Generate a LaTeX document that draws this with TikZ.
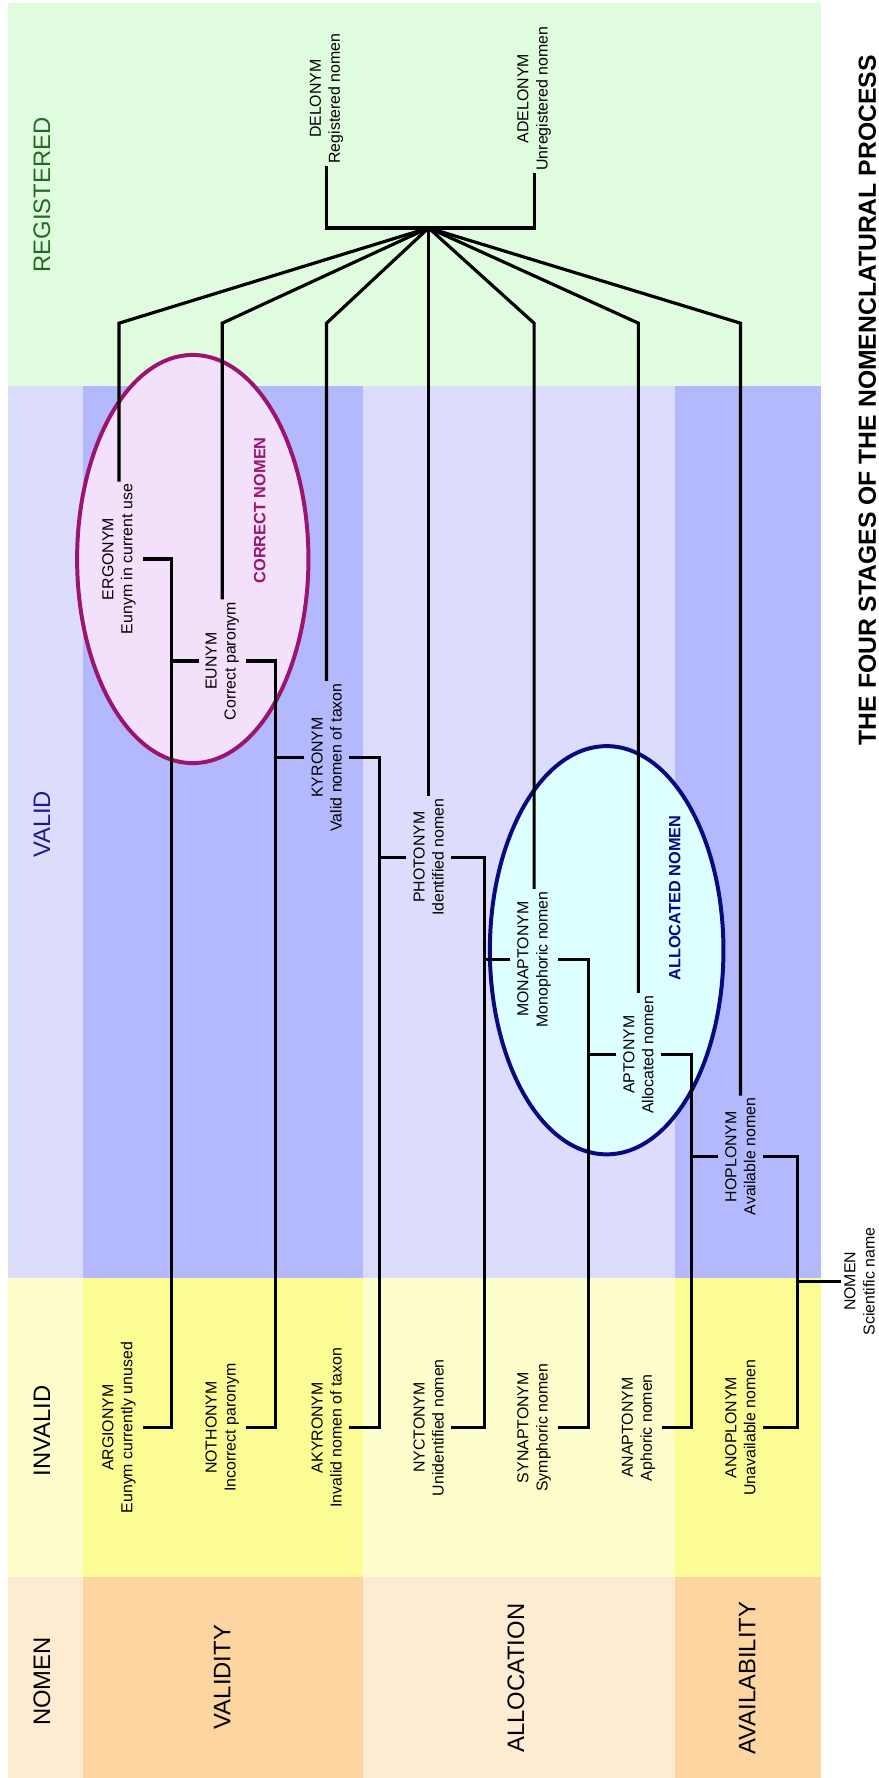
\documentclass[tikz,border=0pt]{standalone}
\usepackage{fontspec}
\setmainfont{Liberation Sans}
\definecolor{regG}{HTML}{DFFCDF}
\definecolor{vl}{HTML}{DCDCFC}
\definecolor{vd}{HTML}{B4B8FC}
\definecolor{il}{HTML}{FEFECC}
\definecolor{idk}{HTML}{FCFC94}
\definecolor{nl}{HTML}{FDEBD2}
\definecolor{nd}{HTML}{FDD5A0}
\definecolor{pinkF}{HTML}{F3E0FA}
\definecolor{pinkS}{HTML}{9B146E}
\definecolor{cyanF}{HTML}{DEFFFF}
\definecolor{navyS}{HTML}{0A0A80}
\definecolor{regT}{HTML}{226B22}
\definecolor{valT}{HTML}{1C1C8C}
\begin{document}
\begin{tikzpicture}[x=1pt,y=-1pt,
  nm/.style={rotate=90,align=center,font=\fontsize{14}{16.8}\selectfont,inner xsep=2pt,inner ysep=6pt},
  ln/.style={line width=2.8pt,line join=miter},
  lab/.style={rotate=90,font=\fontsize{21}{25}\selectfont,inner sep=0pt},
  tag/.style={rotate=90,font=\bfseries\fontsize{14.4}{17}\selectfont,inner sep=0pt}]
\useasboundingbox (0,0) rectangle (775,1568);
% background bands
\fill[regG] (7,3) rectangle (724,340);
\fill[vl] (7,340) rectangle (73,1127);
\fill[vd] (73,340) rectangle (320,1127);
\fill[vl] (320,340) rectangle (595,1127);
\fill[vd] (595,340) rectangle (724,1127);
\fill[il] (7,1127) rectangle (73,1391);
\fill[idk] (73,1127) rectangle (320,1391);
\fill[il] (320,1127) rectangle (595,1391);
\fill[idk] (595,1127) rectangle (724,1391);
\fill[nl] (7,1391) rectangle (73,1568);
\fill[nd] (73,1391) rectangle (320,1568);
\fill[nl] (320,1391) rectangle (595,1568);
\fill[nd] (595,1391) rectangle (724,1568);
% ellipses
\draw[line width=3.5pt,draw=pinkS,fill=pinkF] (170,493) ellipse [x radius=102pt,y radius=180pt];
\draw[line width=3.5pt,draw=navyS,fill=cyanF] (535,838) ellipse [x radius=103pt,y radius=180pt];
% labels
\node[lab,text=regT] (lreg) at (37,172) {REGISTERED};
\node[lab,text=valT] (lval) at (37,727) {VALID};
\node[lab] (linv) at (37,1262) {INVALID};
\node[lab] (lnom) at (37,1483) {NOMEN};
\node[lab] (lvdt) at (196,1479) {VALIDITY};
\node[lab] (lall) at (455,1480) {ALLOCATION};
\node[lab] (lavl) at (659,1480) {AVAILABILITY};
\node[tag,text=pinkS] (tcor) at (229,450) {CORRECT NOMEN};
\node[tag,text=navyS] (tall) at (595,792) {ALLOCATED NOMEN};
\node[rotate=90,font=\bfseries\fontsize{21.8}{26}\selectfont,inner sep=0pt] (title) at (765,353) {THE FOUR STAGES OF THE NOMENCLATURAL PROCESS};
% nodes
\node[nm] (del) at (288,87) {DELONYM\\Registered nomen};
\node[nm] (adel) at (471,87) {ADELONYM\\Unregistered nomen};
\node[nm] (erg) at (105,493) {ERGONYM\\Eunym in current use};
\node[nm] (eun) at (196,583) {EUNYM\\Correct paronym};
\node[nm] (kyr) at (288,668) {KYRONYM\\Valid nomen of taxon};
\node[nm] (pho) at (378,756) {PHOTONYM\\Identified nomen};
\node[nm] (mon) at (471,846) {MONAPTONYM\\Monophoric nomen};
\node[nm] (apt) at (563,930) {APTONYM\\Allocated nomen};
\node[nm] (hop) at (653,1020) {HOPLONYM\\Available nomen};
\node[nm] (arg) at (105,1259) {ARGIONYM\\Eunym currently unused};
\node[nm] (not) at (196,1259) {NOTHONYM\\Incorrect paronym};
\node[nm] (aky) at (288,1259) {AKYRONYM\\Invalid nomen of taxon};
\node[nm] (nyc) at (378,1259) {NYCTONYM\\Unidentified nomen};
\node[nm] (syn) at (471,1259) {SYNAPTONYM\\Symphoric nomen};
\node[nm] (ana) at (563,1259) {ANAPTONYM\\Aphoric nomen};
\node[nm] (ano) at (653,1259) {ANOPLONYM\\Unavailable nomen};
\node[nm,inner ysep=3pt] (nom) at (758,1130) {NOMEN\\Scientific name};
% coordinates
\coordinate (hub) at (378,201);
\coordinate (bend) at (0,285);
\coordinate (v1) at (151,0);
\coordinate (v2) at (243,0);
\coordinate (v3) at (335,0);
\coordinate (v4) at (427,0);
\coordinate (v5) at (519,0);
\coordinate (v6) at (610,0);
\coordinate (v7) at (703,0);
% registered connectors
\draw[ln] (del.west) -- (del.west |- hub) -- (adel.west |- hub) -- (adel.west);
\foreach \n in {erg,eun,kyr,mon,apt,hop}
  \draw[ln] (hub) -- (\n.east |- bend) -- (\n.east);
\draw[ln] (hub) -- (pho.east);
% tree brackets
\draw[ln] (erg.south) -- (erg.south -| v1) -- (arg.south -| v1) -- (arg.south);
\draw[ln] (eun.north) -- (eun.north -| v1);
\draw[ln] (eun.south) -- (eun.south -| v2) -- (not.south -| v2) -- (not.south);
\draw[ln] (kyr.north) -- (kyr.north -| v2);
\draw[ln] (kyr.south) -- (kyr.south -| v3) -- (aky.south -| v3) -- (aky.south);
\draw[ln] (pho.north) -- (pho.north -| v3);
\draw[ln] (pho.south) -- (pho.south -| v4) -- (nyc.south -| v4) -- (nyc.south);
\draw[ln] (mon.north) -- (mon.north -| v4);
\draw[ln] (mon.south) -- (mon.south -| v5) -- (syn.south -| v5) -- (syn.south);
\draw[ln] (apt.north) -- (apt.north -| v5);
\draw[ln] (apt.south) -- (apt.south -| v6) -- (ana.south -| v6) -- (ana.south);
\draw[ln] (hop.north) -- (hop.north -| v6);
\draw[ln] (hop.south) -- (hop.south -| v7) -- (ano.south -| v7) -- (ano.south);
\draw[ln] (nom.north) -- (nom.north -| v7);
\end{tikzpicture}
\end{document}
